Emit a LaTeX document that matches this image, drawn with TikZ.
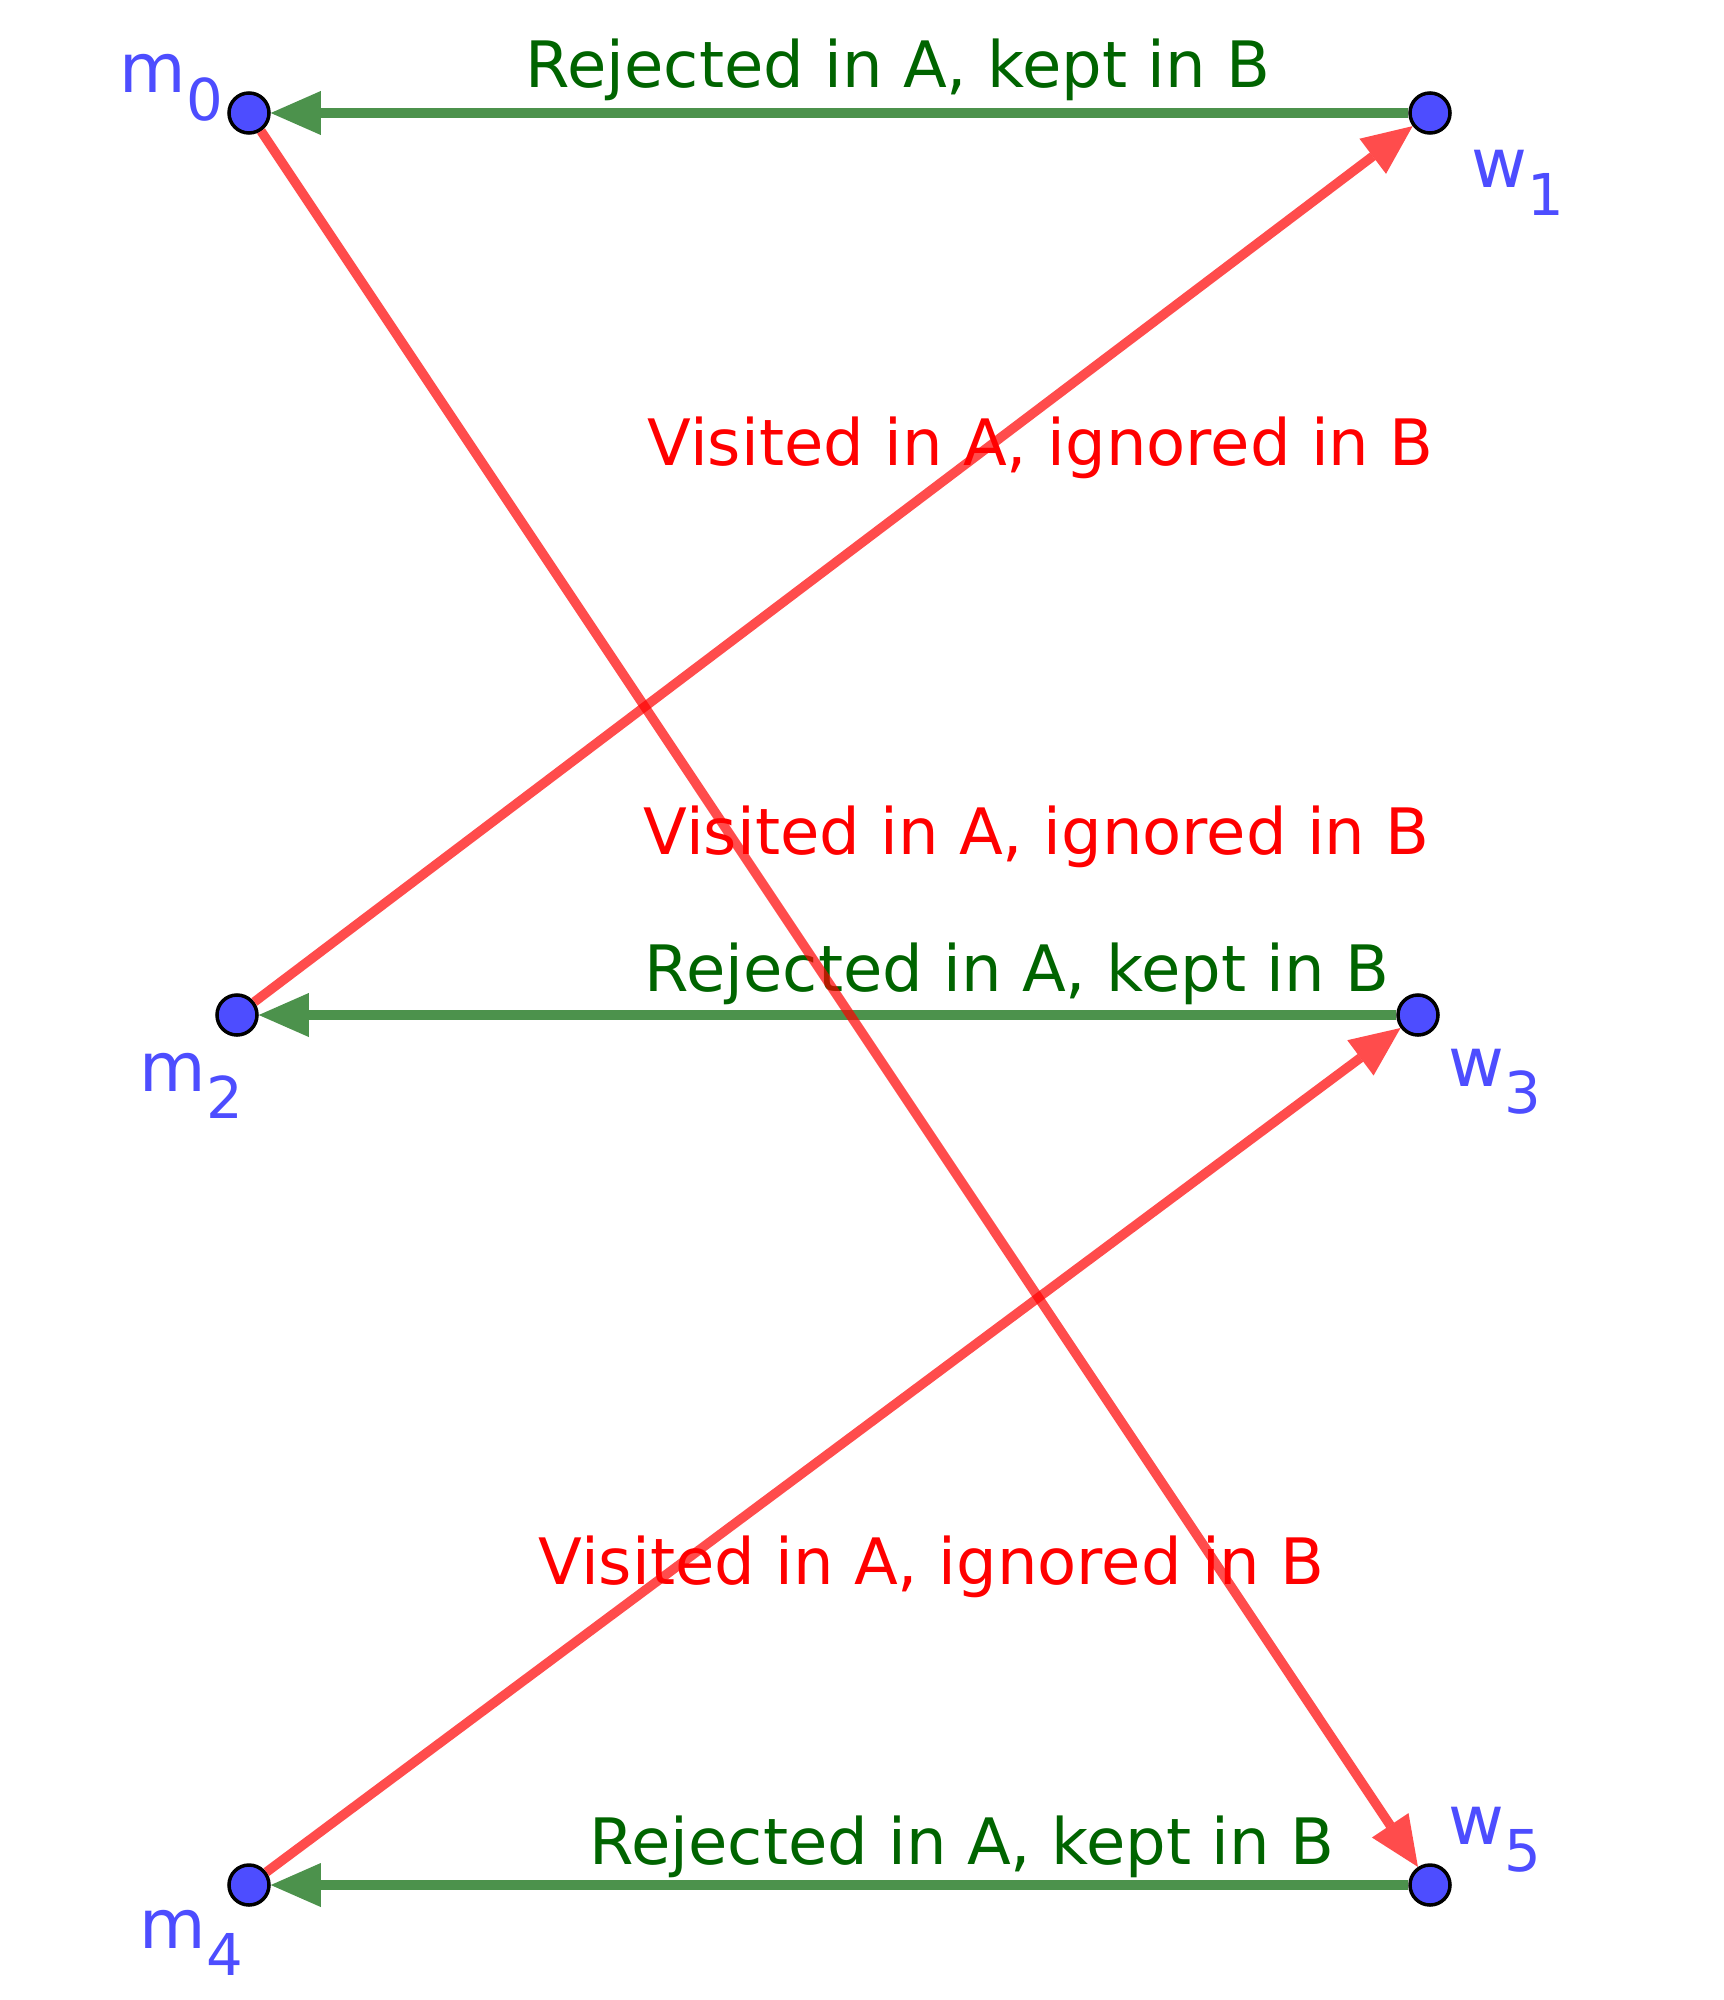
\documentclass[tikz,border=0pt]{standalone}
\usepackage{fontspec}
\setmainfont{DejaVu Sans}
\usetikzlibrary{arrows.meta}

\definecolor{vblue}{RGB}{77,77,255}
\definecolor{keptgreen}{RGB}{0,100,0}
\definecolor{visitred}{RGB}{255,0,0}
\newcommand{\vlab}[2]{#1\raisebox{-0.275cm}{\fontsize{16.4}{19}\selectfont #2}}

\begin{document}
\begin{tikzpicture}[x=0.01cm, y=-0.01cm,
        vertex/.style={circle, draw=black, fill=vblue, line width=0.035cm, minimum size=0.4cm, inner sep=0pt},
        vname/.style={anchor=base west, inner sep=0pt, text=vblue, font=\fontsize{19.4}{23}\selectfont},
        note/.style={anchor=base west, inner sep=0pt, font=\fontsize{18.2}{22}\selectfont},
        tip/.style={-{Triangle[length=0.5cm, width=0.44cm, line width=0pt]}},
        kept/.style={draw=keptgreen, opacity=0.7, line width=0.095cm, tip},
        visit/.style={draw=visitred, opacity=0.7, line width=0.095cm, tip}]
            \useasboundingbox (0, 0) rectangle (1723, 2000);
            % texts first, the lines go over them
            \node[note, text=keptgreen] (k01) at (525, 88) {Rejected in A, kept in B};
            \node[note, text=keptgreen] (k23) at (644, 991) {Rejected in A, kept in B};
            \node[note, text=keptgreen] (k45) at (589, 1864) {Rejected in A, kept in B};
            \node[note, text=visitred] (v21) at (647, 465) {Visited in A, ignored in B};
            \node[note, text=visitred] (v05) at (643, 854) {Visited in A, ignored in B};
            \node[note, text=visitred] (v43) at (538, 1584) {Visited in A, ignored in B};
            % men and women
            \node[vertex] (m0) at (249, 113) {};
            \node[vertex] (w1) at (1430, 113) {};
            \node[vertex] (m2) at (237, 1015) {};
            \node[vertex] (w3) at (1418, 1015) {};
            \node[vertex] (m4) at (249, 1885) {};
            \node[vertex] (w5) at (1430, 1885) {};
            \node[vname] (m0name) at (119, 93) {\vlab{m}{0}};
            \node[vname] (w1name) at (1471, 188) {\vlab{w}{1}};
            \node[vname] (m2name) at (139, 1091) {\vlab{m}{2}};
            \node[vname] (w3name) at (1448, 1086) {\vlab{w}{3}};
            \node[vname] (m4name) at (139, 1948) {\vlab{m}{4}};
            \node[vname] (w5name) at (1448, 1844) {\vlab{w}{5}};
            % edges
            \draw[kept] (w1) -- (m0);
            \draw[kept] (w3) -- (m2);
            \draw[kept] (w5) -- (m4);
            \draw[visit] (m0) -- (w5);
            \draw[visit] (m2) -- (w1);
            \draw[visit] (m4) -- (w3);
        \end{tikzpicture}
\end{document}
